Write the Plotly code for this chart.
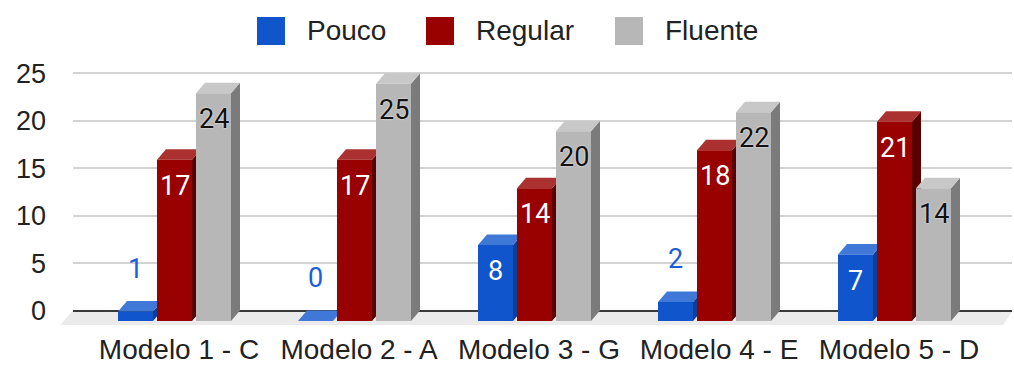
import plotly.graph_objects as go

categories = ["Modelo 1 - C", "Modelo 2 - A", "Modelo 3 - G", "Modelo 4 - E", "Modelo 5 - D"]
series_names = ["Pouco", "Regular", "Fluente"]
pouco = [1, 0, 8, 2, 7]
regular = [17, 17, 14, 18, 21]
fluente = [24, 25, 20, 22, 14]
y_ticks = [0, 5, 10, 15, 20, 25]

series_values = [pouco, regular, fluente]
front_colors = ["#1155cc", "#990000", "#b7b7b7"]
top_colors = ["#3f78d6", "#ab3030", "#c8c8c8"]
side_colors = ["#0c3f96", "#5a0000", "#7b7b7b"]
inside_text_colors = ["#ffffff", "#ffffff", "#111111"]
outside_text_colors = ["#1a5fd6", "#990000", "#111111"]

W, H = 1014, 367
ML, MR, MT, MB = 73, 2, 60, 41
PW, PH = W - ML - MR, H - MT - MB
PX_PER_X = 180.0
PX_PER_Y = 9.49
ZERO_PX = 310.5                      # pixel row of the back-plane zero line
X_LEFT = -(174.5 - ML) / PX_PER_X
X_RANGE = [X_LEFT, X_LEFT + PW / PX_PER_X]
Y_TOP = (ZERO_PX - MT) / PX_PER_Y
Y_RANGE = [Y_TOP - PH / PX_PER_Y, Y_TOP]

DEPTH_DX = 9 / PX_PER_X              # depth offset (x, data units)
DEPTH_DY = 10.5 / PX_PER_Y           # depth offset (y, data units)
SLOT = 39 / PX_PER_X
BAR_W = 35 / PX_PER_X

FONT = "Liberation Sans, Arial, sans-serif"
LABEL_FONT = "Roboto, Arial, sans-serif"

fig = go.Figure()
shapes = []
annotations = []

def px2paperx(px):
    return (px - ML) / PW

def px2papery(py):
    return (MT + PH - py) / PH

# floor
floor_path = "M{a},{y0} L{b},{y0} L{c},{y1} L{d},{y1} Z".format(
    a=px2paperx(ML), b=px2paperx(1013), c=px2paperx(1003), d=px2paperx(60),
    y0=0, y1=-DEPTH_DY - 0.42)
shapes.append(dict(type="path", xref="paper", yref="y", path=floor_path,
                   fillcolor="#ebebeb", line=dict(width=0), layer="below"))

for k, (name, vals) in enumerate(zip(series_names, series_values)):
    off = (k - 1) * SLOT - BAR_W / 2
    fig.add_trace(go.Bar(
        x=list(range(len(categories))), y=vals, base=[-DEPTH_DY] * len(vals),
        offset=off, width=BAR_W, name=name,
        marker=dict(color=front_colors[k], line=dict(width=0)),
        showlegend=False, hoverinfo="skip"))

for i in range(len(categories)):
    for k, vals in enumerate(series_values):
        v = vals[i]
        x0 = i + (k - 1) * SLOT - BAR_W / 2
        x1 = x0 + BAR_W
        yf = v - DEPTH_DY
        side = "M{x1},{yf} L{x2},{v} L{x2},0 L{x1},{yb} Z".format(
            x1=x1, x2=x1 + DEPTH_DX, yf=yf, v=v, yb=-DEPTH_DY)
        top = "M{x0},{yf} L{x1},{yf} L{x3},{v} L{x2},{v} Z".format(
            x0=x0, x1=x1, x2=x0 + DEPTH_DX, x3=x1 + DEPTH_DX, yf=yf, v=v)
        shapes.append(dict(type="path", xref="x", yref="y", path=side,
                           fillcolor=side_colors[k], line=dict(width=0), layer="between"))
        shapes.append(dict(type="path", xref="x", yref="y", path=top,
                           fillcolor=top_colors[k], line=dict(width=0), layer="between"))
        inside = v * PX_PER_Y >= 40
        annotations.append(dict(
            x=(x0 + x1) / 2, y=yf, xref="x", yref="y", text=str(v), showarrow=False,
            xanchor="center", yanchor="middle", yshift=-26 if inside else 43,
            font=dict(family=LABEL_FONT, size=27,
                      color=inside_text_colors[k] if inside else outside_text_colors[k],
                      shadow="0px 0px 2px #ffffff" if k == 2 else "none")))

# legend (manual, large squares)
legend_sq = [257, 426, 615]
legend_tx = [305, 474, 663]
for k, name in enumerate(series_names):
    shapes.append(dict(type="rect", xref="paper", yref="paper",
                       x0=px2paperx(legend_sq[k]), x1=px2paperx(legend_sq[k] + 28),
                       y0=px2papery(45), y1=px2papery(17),
                       fillcolor=front_colors[k], line=dict(width=0), layer="above"))
    annotations.append(dict(x=px2paperx(legend_tx[k]), y=px2papery(31), xref="paper", yref="paper",
                            text=name, showarrow=False, xanchor="left", yanchor="middle",
                            font=dict(family=FONT, size=28, color="#222222")))

fig.update_layout(
    width=W, height=H, margin=dict(l=ML, r=MR, t=MT, b=MB, autoexpand=False),
    paper_bgcolor="white", plot_bgcolor="white",
    barmode="overlay", showlegend=False,
    shapes=shapes, annotations=annotations,
    xaxis=dict(range=X_RANGE, tickvals=[i + DEPTH_DX / 2 for i in range(len(categories))],
               ticktext=categories, showgrid=False, zeroline=False, showline=False,
               ticks="", ticklabelstandoff=4, automargin=False,
               tickfont=dict(family=FONT, size=28, color="#222222"), fixedrange=True),
    yaxis=dict(range=Y_RANGE, tickvals=y_ticks, ticktext=[str(t) for t in y_ticks],
               showgrid=True, gridcolor="#d3d3d3", gridwidth=2,
               zeroline=True, zerolinecolor="#3a3a3a", zerolinewidth=2,
               showline=False, ticks="", ticklabelstandoff=26, automargin=False,
               tickfont=dict(family=FONT, size=27, color="#222222"), fixedrange=True),
)

fig.write_html("out.html")
